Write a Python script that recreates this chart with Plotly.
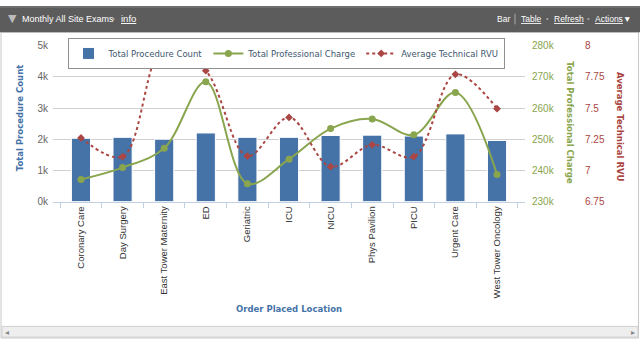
import plotly.graph_objects as go

W, H = 640, 344

categories = ["Coronary Care", "Day Surgery", "East Tower Maternity", "ED", "Geriatric",
              "ICU", "NICU", "Phys Pavilion", "PICU", "Urgent Care", "West Tower Oncology"]
procedure_count = [2030, 2060, 2000, 2200, 2060, 2060, 2120, 2130, 2100, 2170, 1960]
professional_charge = [237100, 240900, 247100, 268400, 235700, 243600, 253400, 256500, 251400, 265000, 238700]
technical_rvu = [7.26, 7.11, 8.0, 7.80, 7.115, 7.425, 7.03, 7.205, 7.11, 7.77, 7.495]

left_ticks = [0, 1000, 2000, 3000, 4000, 5000]
left_ticktext = ["0k", "1k", "2k", "3k", "4k", "5k"]
charge_ticks = [230000, 240000, 250000, 260000, 270000, 280000]
charge_ticktext = ["230k", "240k", "250k", "260k", "270k", "280k"]
rvu_ticks = [6.75, 7.0, 7.25, 7.5, 7.75, 8.0]
rvu_ticktext = ["6.75", "7", "7.25", "7.5", "7.75", "8"]

BLUE = "#4572A7"
GREEN = "#89A54E"
RED = "#AA4643"


def px(x):
    return x / W


def py(y):
    return 1 - y / H


fig = go.Figure()
fig.add_trace(go.Bar(
    x=categories, y=procedure_count, name="Total Procedure Count",
    marker=dict(color=BLUE, line=dict(color="white", width=1)),
    width=0.46, yaxis="y"))
fig.add_trace(go.Scatter(
    x=categories, y=professional_charge, name="Total Professional Charge",
    mode="lines+markers", yaxis="y2",
    line=dict(color=GREEN, width=2, shape="spline", smoothing=1.0),
    marker=dict(color=GREEN, size=7, symbol="circle")))
fig.add_trace(go.Scatter(
    x=categories, y=technical_rvu, name="Average Technical RVU",
    mode="lines+markers", yaxis="y3",
    line=dict(color=RED, width=2, dash="dot", shape="spline", smoothing=1.0),
    marker=dict(color=RED, size=6, symbol="diamond")))

shapes = [
    dict(type="rect", xref="paper", yref="paper", x0=px(1), x1=px(638.5), y0=py(343), y1=py(27),
         line=dict(color="#C8C8C8", width=1), fillcolor="rgba(0,0,0,0)", layer="below"),
    dict(type="rect", xref="paper", yref="paper", x0=px(0), x1=px(640), y0=py(27), y1=py(0),
         line=dict(width=0), fillcolor="#5C5C5C", layer="below"),
    dict(type="rect", xref="paper", yref="paper", x0=px(0), x1=px(640), y0=py(2), y1=py(0),
         line=dict(width=0), fillcolor="#6E6E6E", layer="below"),
    dict(type="rect", xref="paper", yref="paper", x0=px(2), x1=px(638), y0=py(342), y1=py(331),
         line=dict(color="#CFCFCF", width=1), fillcolor="#EEEEEE", layer="below"),
    dict(type="line", xref="paper", yref="paper", x0=px(515), x1=px(515), y0=py(19), y1=py(8),
         line=dict(color="#AAAAAA", width=1)),
]

HF = "Liberation Sans, Arial"
white_font = dict(family=HF, color="white")
annotations = [
    dict(text="▼", x=px(12), y=py(13), xanchor="center", yanchor="middle",
         font=dict(family="DejaVu Sans", size=11, color="#BBBBBB")),
    dict(text="Monthly All Site Exams", x=px(20), y=py(13), xanchor="left", yanchor="middle",
         font=dict(size=9, **white_font)),
    dict(text="•", x=px(113), y=py(13), xanchor="center", yanchor="middle",
         font=dict(size=8, family=HF, color="#AAAAAA")),
    dict(text="<span style='text-decoration:underline'>info</span>", x=px(119), y=py(13),
         xanchor="left", yanchor="middle", font=dict(size=9.5, **white_font)),
    dict(text="Bar", x=px(512), y=py(13), xanchor="right", yanchor="middle",
         font=dict(size=8.5, **white_font)),
    dict(text="<span style='text-decoration:underline'>Table</span>", x=px(519), y=py(13),
         xanchor="left", yanchor="middle", font=dict(size=8.5, **white_font)),
    dict(text="•", x=px(547), y=py(13), xanchor="center", yanchor="middle",
         font=dict(size=7, family=HF, color="#AAAAAA")),
    dict(text="<span style='text-decoration:underline'>Refresh</span>", x=px(552), y=py(13),
         xanchor="left", yanchor="middle", font=dict(size=8.5, **white_font)),
    dict(text="•", x=px(588), y=py(13), xanchor="center", yanchor="middle",
         font=dict(size=7, family=HF, color="#AAAAAA")),
    dict(text="<span style='text-decoration:underline'>Actions</span>▼", x=px(593), y=py(13),
         xanchor="left", yanchor="middle", font=dict(size=8.5, **white_font)),
    dict(text="<b>Total Procedure Count</b>", x=px(20), y=py(116), textangle=-90,
         xanchor="center", yanchor="middle",
         font=dict(family="DejaVu Sans", size=8.5, color=BLUE)),
    dict(text="<b>Total Professional Charge</b>", x=px(570), y=py(120), textangle=90,
         xanchor="center", yanchor="middle",
         font=dict(family="DejaVu Sans", size=8.5, color=GREEN)),
    dict(text="<b>Average Technical RVU</b>", x=px(620), y=py(125), textangle=90,
         xanchor="center", yanchor="middle",
         font=dict(family="DejaVu Sans", size=8.5, color=RED)),
    dict(text="<b>Order Placed Location</b>", x=px(289), y=py(313),
         xanchor="center", yanchor="middle",
         font=dict(family="DejaVu Sans", size=8.5, color=BLUE)),
    dict(text="◂", x=px(7), y=py(337), xanchor="center", yanchor="middle",
         font=dict(family="DejaVu Sans", size=8, color="#888888")),
    dict(text="▸", x=px(633), y=py(337), xanchor="center", yanchor="middle",
         font=dict(family="DejaVu Sans", size=8, color="#888888")),
]
for a in annotations:
    a.update(xref="paper", yref="paper", showarrow=False)

tick_font = dict(family="Liberation Sans, Arial", size=10)

fig.update_layout(
    width=W, height=H,
    margin=dict(l=0, r=0, t=0, b=0),
    paper_bgcolor="white", plot_bgcolor="white",
    showlegend=True,
    legend=dict(orientation="h", x=px(286), xanchor="center", y=py(33), yanchor="top",
                bgcolor="white", bordercolor="#909090", borderwidth=1,
                font=dict(family="DejaVu Sans", size=8.5, color="#3E576F"),
                itemwidth=30, tracegroupgap=0, traceorder="normal"),
    xaxis=dict(domain=[px(53), px(525)], anchor="y", type="category",
               showline=True, linecolor="#C0D0E0", linewidth=1,
               ticks="outside", tickson="boundaries", ticklen=5, tickcolor="#C0D0E0",
               tickangle=-90, tickfont=dict(family="Liberation Sans, Arial", size=9.5, color="#333333"),
               showgrid=False, fixedrange=True),
    yaxis=dict(domain=[py(202), py(41)], range=[0, 5000], anchor="x",
               tickvals=left_ticks, ticktext=left_ticktext,
               tickfont=dict(color="#666666", **tick_font),
               showgrid=True, gridcolor="#D0D0D0", gridwidth=1,
               zeroline=False, showline=False, ticks="", ticklabelstandoff=4),
    yaxis2=dict(overlaying="y", side="right", anchor="x", range=[230000, 280000],
                tickvals=charge_ticks, ticktext=charge_ticktext,
                tickfont=dict(color=GREEN, **tick_font),
                showgrid=False, zeroline=False, showline=False, ticks="",
                ticklabelstandoff=6),
    yaxis3=dict(overlaying="y", side="right", anchor="free", position=px(582),
                range=[6.75, 8.0],
                tickvals=rvu_ticks, ticktext=rvu_ticktext,
                tickfont=dict(color=RED, **tick_font),
                showgrid=False, zeroline=False, showline=False, ticks="",
                ticklabelstandoff=2),
    shapes=shapes,
    annotations=annotations,
)

fig.write_html("out.html")
